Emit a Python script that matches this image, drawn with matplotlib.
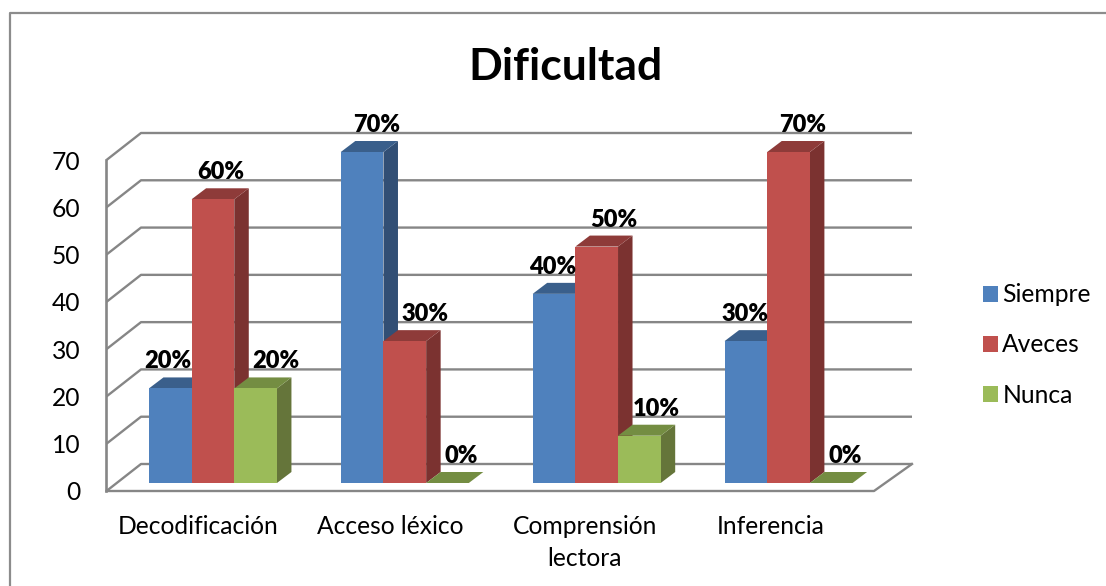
import numpy as np
import matplotlib
matplotlib.use('Agg')
import matplotlib.pyplot as plt
from matplotlib.lines import Line2D

categories = ['Decodificación', 'Acceso léxico', 'Comprensión\nlectora', 'Inferencia']
siempre = [20, 70, 40, 30]
aveces = [60, 30, 50, 70]
nunca = [20, 0, 10, 0]
y_ticks = [0, 10, 20, 30, 40, 50, 60, 70]

# front, top, side colours
blue = ('#4F81BD', '#3A5F8B', '#324F75')
red = ('#C0504D', '#8E3B39', '#7B3230')
green = ('#9BBB59', '#748D42', '#65753A')

W, H = 1106, 586
plt.rcParams['font.family'] = ['Lato', 'DejaVu Sans']

fig = plt.figure(figsize=(W / 100, H / 100), dpi=100)
# axes box = front plane of the fake 3d box, in pixels
left, right, top, bottom = 106.5, 874, 160, 491
ax = fig.add_axes([left / W, 1 - bottom / H, (right - left) / W, (bottom - top) / H])
ax.set_xlim(-0.5, 3.5)
ax.set_ylim(0, 70)
ax.patch.set_alpha(0)

px_x = 4 / (right - left)
px_y = 70 / (bottom - top)

# chart border, only left and top show in the picture
fig.add_artist(Line2D([9.5 / W, 9.5 / W, 1], [0, 1 - 13 / H, 1 - 13 / H], color='#8C8C8C', lw=1.6))

# walls
grid = '#868686'
back_dx = 34.5 * px_x
back_dy = 27 * px_y
for v in y_ticks:
    ax.plot([-0.5, -0.5 + back_dx, 3.5 + 38 * px_x], [v, v + back_dy, v + back_dy],
            color=grid, lw=1.7, clip_on=False, zorder=1, solid_capstyle='butt')
ax.plot([-0.5, 3.5, 3.5 + 38 * px_x], [0, 0, back_dy], color=grid, lw=1.7, clip_on=False, zorder=1)
ax.plot([-0.5, -0.5], [0, 70], color=grid, lw=1.9, clip_on=False, zorder=1)

# bars
bar_w = 42.67 * px_x
depth_x = 14.5 * px_x
depth_y = 11 * px_y
base = 8 * px_y
shift = 10.5 * px_x
pos = np.arange(4) + shift
series = [('Siempre', siempre, blue, -1), ('Aveces', aveces, red, 0), ('Nunca', nunca, green, 1)]
handles = []
z = 3
for name, vals, cols, k in series:
    xs = pos + k * bar_w
    for x, v in zip(xs, vals):
        x0, x1 = x - bar_w / 2, x + bar_w / 2
        y0, y1 = base, base + v
        z += 1
        ax.fill([x1, x1 + depth_x, x1 + depth_x, x1], [y0, y0 + depth_y, y1 + depth_y, y1],
                color=cols[2], lw=0, clip_on=False, zorder=z)
        ax.fill([x0, x1, x1 + depth_x, x0 + depth_x], [y1, y1, y1 + depth_y, y1 + depth_y],
                color=cols[1], lw=0, clip_on=False, zorder=z)
        b = ax.bar(x, v, width=bar_w, bottom=base, color=cols[0], clip_on=False, zorder=z + 0.5)
    handles.append((b[0], name))

# data labels, horizontal nudges in pixels
label_dx = [[-2, 14, -1, -1], [8, 20, 17, 14], [20, 14, 17, 14]]
for (name, vals, cols, k), dxs in zip(series, label_dx):
    for x, v, dx in zip(pos + k * bar_w, vals, dxs):
        ax.annotate('%d%%' % v, (x, base + v), xytext=(dx * 0.72, 27 * 0.72), textcoords='offset points',
                    ha='center', va='center', fontsize=17, fontweight='heavy', color='black', zorder=100,
                    annotation_clip=False)

# axis text
ax.set_yticks(y_ticks)
ax.set_xticks(np.arange(4) + np.array([-4.5, -4.5, -1.5, -7.5]) * px_x)
ax.set_xticklabels(categories, linespacing=1.5)
ax.tick_params(axis='both', length=0, labelsize=17.7, labelcolor='black')
ax.tick_params(axis='y', pad=19)
ax.tick_params(axis='x', pad=17)
for s in ax.spines.values():
    s.set_visible(False)

fig.text(565 / W, 1 - 67 / H, 'Dificultad', ha='center', va='center', fontsize=32, fontweight='bold')

leg = ax.legend([h[0] for h in handles], [h[1] for h in handles], loc='center left',
                bbox_to_anchor=(983 / W, 1 - 345 / H), bbox_transform=fig.transFigure,
                frameon=False, fontsize=17.7, handlelength=0.62, handleheight=0.62,
                handletextpad=0.17, labelspacing=1.1, borderpad=0, borderaxespad=0)

fig.savefig('out.png', dpi=100)
